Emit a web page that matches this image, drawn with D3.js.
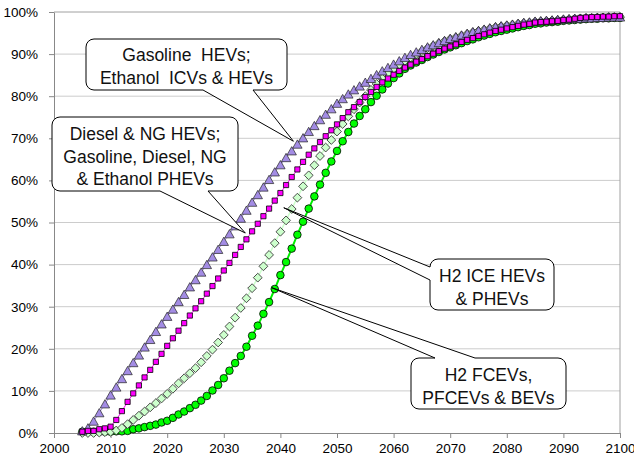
<!DOCTYPE html>
<html>
<head>
<meta charset="utf-8">
<script src="https://cdn.jsdelivr.net/npm/d3@7"></script>
<style>
  html, body { margin: 0; padding: 0; background: #fff; }
  svg { display: block; font-family: 'Liberation Sans', Arial, sans-serif; }
</style>
</head>
<body>
<svg id="chart" width="634" height="462"></svg>
<script>
// categories
const years = d3.range(2005, 2101);
const xTicks = [2000, 2010, 2020, 2030, 2040, 2050, 2060, 2070, 2080, 2090, 2100];
const yTicks = [0, 10, 20, 30, 40, 50, 60, 70, 80, 90, 100];

// market share (%), one value per year 2005..2100
const gasolineHev = [
  0.5, 1.2, 2.8, 4.8, 6.9, 9.0, 10.9, 12.9, 14.8, 16.7,
  18.5, 20.4, 22.2, 24.1, 25.9, 27.7, 29.4, 31.2, 32.9, 34.7,
  36.4, 38.2, 40.0, 41.8, 43.6, 45.5, 47.3, 49.2, 51.0, 52.9,
  54.8, 56.6, 58.4, 60.2, 62.0, 63.7, 65.4, 67.0, 68.6, 70.1,
  71.6, 73.0, 74.4, 75.7, 77.0, 78.3, 79.4, 80.5, 81.5, 82.4,
  83.3, 84.2, 85.1, 86.0, 86.8, 87.6, 88.4, 89.2, 89.9, 90.5,
  91.1, 91.7, 92.2, 92.7, 93.2, 93.7, 94.1, 94.5, 94.9, 95.3,
  95.6, 95.9, 96.2, 96.5, 96.7, 96.9, 97.1, 97.3, 97.5, 97.6,
  97.8, 97.9, 98.0, 98.1, 98.2, 98.3, 98.4, 98.5, 98.5, 98.6,
  98.6, 98.7, 98.7, 98.8, 98.8, 98.8
];
const dieselNgHev = [
  0.3, 0.5, 0.5, 0.9, 1.1, 1.5, 3.1, 5.2, 7.4, 9.4,
  11.3, 13.2, 15.0, 16.9, 18.8, 20.7, 22.5, 24.3, 26.1, 27.9,
  29.6, 31.3, 33.1, 34.9, 36.7, 38.6, 40.4, 42.3, 44.2, 46.0,
  47.9, 49.7, 51.5, 53.3, 55.2, 57.0, 58.9, 60.8, 62.6, 64.4,
  66.1, 67.6, 69.1, 70.5, 71.9, 73.3, 74.8, 76.2, 77.4, 78.6,
  79.8, 81.0, 82.2, 83.3, 84.2, 85.1, 86.0, 86.8, 87.5, 88.2,
  88.8, 89.5, 90.1, 90.7, 91.3, 91.8, 92.3, 92.9, 93.4, 93.8,
  94.3, 94.7, 95.1, 95.5, 95.8, 96.1, 96.4, 96.7, 97.0, 97.2,
  97.5, 97.6, 97.7, 97.8, 97.9, 98.1, 98.2, 98.4, 98.6, 98.7,
  98.8, 98.8, 98.9, 98.9, 99.0, 99.0
];
const h2IceHev = [
  0.0, 0.0, 0.0, 0.1, 0.2, 0.3, 0.6, 1.2, 2.1, 3.1,
  4.1, 5.1, 6.1, 7.1, 8.2, 9.3, 10.5, 11.8, 13.0, 14.2,
  15.4, 16.8, 18.3, 19.8, 21.5, 23.3, 25.3, 27.4, 29.7, 32.0,
  34.4, 36.9, 39.6, 42.3, 45.1, 47.8, 50.5, 53.2, 55.9, 58.6,
  61.2, 63.6, 65.8, 67.8, 69.6, 71.6, 73.4, 75.2, 76.9, 78.5,
  80.0, 81.5, 82.9, 84.2, 85.4, 86.5, 87.5, 88.4, 89.2, 90.0,
  90.7, 91.4, 92.0, 92.6, 93.1, 93.6, 94.0, 94.4, 94.8, 95.2,
  95.5, 95.8, 96.1, 96.4, 96.6, 96.8, 97.0, 97.2, 97.4, 97.5,
  97.7, 97.8, 97.9, 98.0, 98.1, 98.2, 98.3, 98.4, 98.5, 98.6,
  98.6, 98.7, 98.7, 98.8, 98.8, 98.8
];
const h2Fcev = [
  0.3, 0.3, 0.3, 0.3, 0.3, 0.3, 0.4, 0.4, 0.5, 0.9,
  1.1, 1.4, 1.7, 2.0, 2.5, 2.9, 3.6, 4.4, 5.1, 5.9,
  6.7, 7.7, 8.8, 10.1, 11.4, 13.0, 14.8, 16.6, 18.3, 20.5,
  23.1, 25.5, 28.3, 31.1, 34.2, 37.5, 40.6, 43.8, 47.1, 50.2,
  53.3, 56.2, 59.0, 61.8, 64.5, 67.0, 69.3, 71.5, 73.5, 75.3,
  76.9, 78.6, 80.1, 81.6, 83.0, 84.3, 85.4, 86.5, 87.3, 88.0,
  88.6, 89.3, 89.9, 90.5, 91.1, 91.6, 92.1, 92.6, 93.1, 93.5,
  94.0, 94.4, 94.8, 95.2, 95.5, 95.8, 96.1, 96.4, 96.7, 96.9,
  97.2, 97.3, 97.5, 97.6, 97.7, 97.9, 98.0, 98.1, 98.2, 98.3,
  98.4, 98.4, 98.5, 98.5, 98.6, 98.6
];

const svg = d3.select('#chart');
const font = "'Liberation Sans', Arial, sans-serif";

const x = d3.scaleLinear().domain([2000, 2100]).range([54, 620]);
const y = d3.scaleLinear().domain([0, 100]).range([433, 12]);

// gridlines
svg.append('g')
  .selectAll('line')
  .data(yTicks.filter(d => d > 0 && d < 100))
  .join('line')
  .attr('x1', x(2000))
  .attr('x2', x(2100))
  .attr('y1', d => y(d))
  .attr('y2', d => y(d))
  .attr('stroke', '#cccccc');

// plot area border (top + right)
svg.append('path')
  .attr('d', `M${x(2000)},${y(100)}H${x(2100)}V${y(0)}`)
  .attr('fill', 'none')
  .attr('stroke', '#a0a0a0');

const styleAxis = g => {
  g.attr('font-family', font).attr('font-size', 13.5);
  g.selectAll('.domain, .tick line').attr('stroke', '#888');
  g.selectAll('text').attr('fill', '#000');
};

svg.append('g')
  .attr('transform', `translate(${x(2000)},0)`)
  .call(d3.axisLeft(y).tickValues(yTicks).tickFormat(d => d + '%').tickSize(5).tickSizeOuter(0).tickPadding(11))
  .call(styleAxis);

svg.append('g')
  .attr('transform', `translate(0,${y(0)})`)
  .call(d3.axisBottom(x).tickValues(xTicks).tickFormat(d3.format('d')).tickSize(5).tickSizeOuter(0).tickPadding(5))
  .call(styleAxis);

// marker shapes
const shapes = {
  circle: 'M3.8,0A3.8,3.8 0 1,1 -3.8,0A3.8,3.8 0 1,1 3.8,0Z',
  square: 'M-2.6,-2.6H2.6V2.6H-2.6Z',
  diamond: 'M0,-4.4L4.4,0L0,4.4L-4.4,0Z',
  triangle: 'M0,-4.3L4.7,4H-4.7Z'
};

const seriesList = [
  { values: h2Fcev, line: '#00ee00', lineWidth: 2, shape: 'circle', fill: '#00ff00', stroke: '#000', sw: 0.8 },
  { values: h2IceHev, line: '#ccffcc', lineWidth: 1.5, shape: 'diamond', fill: '#ccffcc', stroke: '#3a3a3a', sw: 0.9 },
  { values: gasolineHev, line: '#a38ce4', lineWidth: 1, shape: 'triangle', fill: '#a38ce4', stroke: '#222', sw: 0.7 },
  { values: dieselNgHev, line: '#ff00ff', lineWidth: 1, shape: 'square', fill: '#ff00ff', stroke: '#000', sw: 0.8 }
];

const line = d3.line()
  .x((d, i) => x(years[i]))
  .y(d => y(d));

seriesList.forEach(s => {
  const g = svg.append('g');
  g.append('path')
    .attr('d', line(s.values))
    .attr('fill', 'none')
    .attr('stroke', s.line)
    .attr('stroke-width', s.lineWidth);
  g.selectAll('path.mark')
    .data(s.values)
    .join('path')
    .attr('class', 'mark')
    .attr('d', shapes[s.shape])
    .attr('transform', (d, i) => `translate(${x(years[i])},${y(d)})`)
    .attr('fill', s.fill)
    .attr('stroke', s.stroke)
    .attr('stroke-width', s.sw);
});

// callouts: box in px, tip in data units
const callouts = [
  { lines: ['Gasoline  HEVs;', 'Ethanol  ICVs & HEVs'], box: [86, 39, 201, 51], side: 'bottom', wedge: [203, 253], tip: [2042.3, 69.3], first: 22 },
  { lines: ['Diesel & NG HEVs;', 'Gasoline, Diesel, NG', '& Ethanol PHEVs'], box: [52, 117, 186, 74], side: 'bottom', wedge: [160, 208], tip: [2033.8, 47.5], first: 23 },
  { lines: ['H2 ICE HEVs', '& PHEVs'], box: [430, 259, 124, 51], side: 'left', wedge: [267, 280], tip: [2040.6, 53.5], first: 23 },
  { lines: ['H2 FCEVs,', 'PFCEVs & BEVs'], box: [411, 358, 155, 51], side: 'top', wedge: [435, 475], tip: [2038.5, 34.5], first: 23 }
];

const calloutPath = c => {
  const [bx, by, w, h] = c.box;
  const r = 8;
  const tx = x(c.tip[0]), ty = y(c.tip[1]);
  const [a, b] = c.wedge;
  let p = `M${bx + r},${by}`;
  if (c.side === 'top') p += `L${a},${by}L${tx},${ty}L${b},${by}`;
  p += `L${bx + w - r},${by}A${r},${r} 0 0 1 ${bx + w},${by + r}`;
  p += `L${bx + w},${by + h - r}A${r},${r} 0 0 1 ${bx + w - r},${by + h}`;
  if (c.side === 'bottom') p += `L${b},${by + h}L${tx},${ty}L${a},${by + h}`;
  p += `L${bx + r},${by + h}A${r},${r} 0 0 1 ${bx},${by + h - r}`;
  if (c.side === 'left') p += `L${bx},${b}L${tx},${ty}L${bx},${a}`;
  p += `L${bx},${by + r}A${r},${r} 0 0 1 ${bx + r},${by}Z`;
  return p;
};

const cg = svg.append('g').selectAll('g').data(callouts).join('g');
cg.append('path')
  .attr('d', calloutPath)
  .attr('fill', '#fff')
  .attr('stroke', '#000')
  .attr('stroke-width', 1);
cg.each(function(c) {
  const t = d3.select(this).append('text')
    .attr('font-family', font)
    .attr('font-size', 17.5)
    .attr('text-anchor', 'middle')
    .attr('fill', '#111')
    .style('white-space', 'pre');
  c.lines.forEach((ln, i) => {
    t.append('tspan')
      .attr('x', c.box[0] + c.box[2] / 2)
      .attr('y', c.box[1] + c.first + i * 22.7)
      .text(ln);
  });
});
</script>
</body>
</html>
